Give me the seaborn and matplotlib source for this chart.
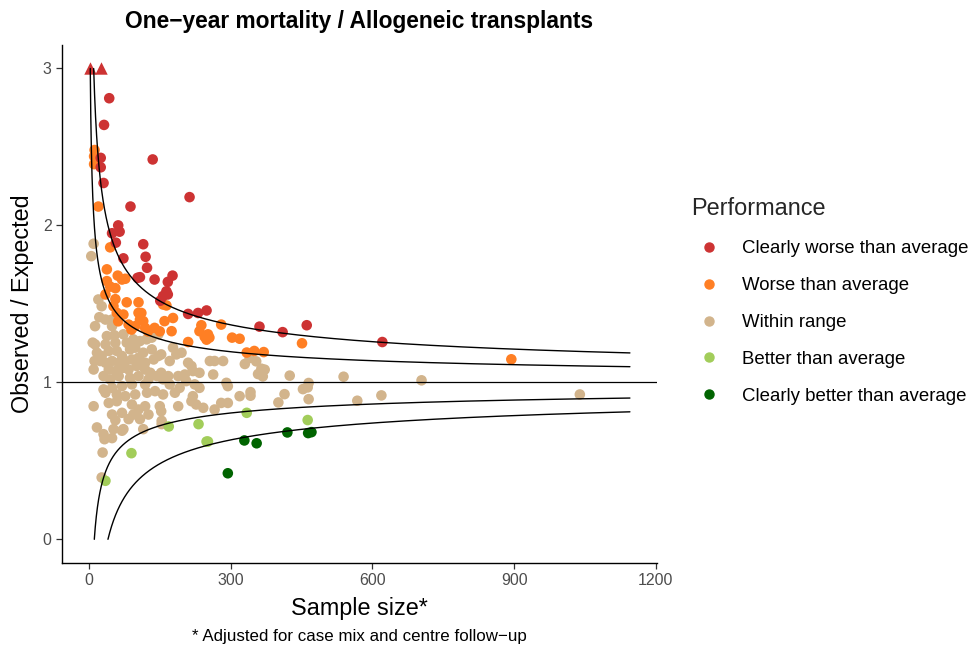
import numpy as np
import pandas as pd
import matplotlib
matplotlib.use("Agg")
import matplotlib.pyplot as plt
from matplotlib.lines import Line2D
import seaborn as sns

# values (sample size, observed / expected)
worse2_x = [43, 32, 25, 135, 25, 31, 213, 88, 62, 49, 65, 57, 73, 115, 120, 123, 139, 103, 108,
            177, 167, 164, 167, 157, 151, 210, 231, 249, 361, 410, 461, 621]
worse2_y = [2.81, 2.64, 2.43, 2.42, 2.37, 2.27, 2.18, 2.12, 2.00, 1.95, 1.96, 1.89, 1.79, 1.88, 1.80,
            1.73, 1.655, 1.666, 1.67, 1.68, 1.64, 1.58, 1.56, 1.55, 1.52, 1.436, 1.442, 1.458,
            1.355, 1.32, 1.364, 1.257]

# centres above the plotted range, drawn as triangles at 3
capped_x = [2, 25]
capped_y = [3, 3]

worse1_x = [12, 11, 11, 20, 45, 38, 61, 70, 77, 38, 45, 56, 35, 56, 52, 80, 105, 59, 73, 105, 108,
            115, 84, 98, 119, 125, 139, 150, 160, 178, 62, 90, 111, 157, 164, 238, 280, 175, 234,
            210, 245, 255, 252, 303, 319, 334, 350, 249, 370, 451, 894]
worse1_y = [2.48, 2.44, 2.39, 2.12, 1.86, 1.72, 1.68, 1.655, 1.66, 1.645, 1.61, 1.60, 1.56, 1.53,
            1.485, 1.51, 1.51, 1.443, 1.432, 1.443, 1.40, 1.39, 1.368, 1.358, 1.347, 1.325, 1.347,
            1.325, 1.39, 1.41, 1.389, 1.336, 1.442, 1.496, 1.49, 1.364, 1.368, 1.326, 1.326,
            1.257, 1.29, 1.285, 1.306, 1.285, 1.278, 1.19, 1.20, 1.272, 1.193, 1.249, 1.147]

within_x = [10, 5, 20, 27, 22, 35, 49, 13, 49,
            38, 54, 73, 13, 8, 35, 56, 80, 94, 108, 122, 133, 147, 17, 27, 42, 59, 70, 87, 98, 115,
            133, 12, 24, 35, 49, 63, 77, 91, 105, 119, 137, 147, 10, 42, 56, 73, 84, 101, 119, 130,
            31, 45, 63, 87, 105, 126, 144, 31, 49, 70, 91, 119, 35, 59, 77, 98, 123, 140, 10, 42,
            59, 91, 105, 119, 49, 70, 94, 126,
            153, 178, 185, 196, 171, 210, 217, 256, 266, 284, 330, 153, 157, 168, 189, 203, 220,
            234, 206, 224, 234, 263, 291, 294, 171, 192, 182, 220, 217, 227, 157, 150, 153, 189,
            242, 280, 294, 266, 319,
            340, 354, 365, 372, 358, 368, 425, 539, 704, 465, 453, 463, 342, 342, 414, 401, 465,
            568, 619, 1039,
            17, 31, 33, 49, 52, 56, 73, 70, 84, 108, 115, 154, 154, 29, 27]
within_y = [1.883, 1.804, 1.528, 1.485, 1.415, 1.40, 1.40, 1.358, 1.358,
            1.295, 1.30, 1.306, 1.242, 1.253, 1.242, 1.253, 1.253, 1.274, 1.263, 1.274, 1.285,
            1.306, 1.189, 1.168, 1.20, 1.20, 1.168, 1.21, 1.221, 1.189, 1.21, 1.136, 1.136, 1.125,
            1.136, 1.125, 1.136, 1.146, 1.157, 1.125, 1.146, 1.168, 1.082, 1.082, 1.072, 1.093,
            1.082, 1.104, 1.082, 1.061, 1.04, 1.019, 1.04, 1.029, 1.04, 1.019, 1.04, 0.955, 0.965,
            0.976, 0.987, 0.987, 0.934, 0.923, 0.912, 0.923, 0.934, 0.944, 0.848, 0.869, 0.88,
            0.859, 0.827, 0.848, 0.795, 0.806, 0.795, 0.795,
            1.178, 1.221, 1.178, 1.189, 1.136, 1.125, 1.104, 1.136, 1.136, 1.136, 1.117, 1.061,
            1.019, 1.04, 1.04, 1.05, 1.072, 1.061, 1.008, 0.987, 0.965, 1.05, 0.997, 0.976, 0.987,
            0.965, 0.934, 0.912, 0.88, 0.859, 0.923, 0.848, 0.816, 0.848, 0.838, 0.869, 0.869,
            0.827, 0.912,
            1.155, 1.134, 1.087, 1.081, 1.053, 1.038, 1.043, 1.036, 1.013, 0.996, 0.957, 0.968,
            0.938, 0.915, 0.925, 0.872, 0.893, 0.883, 0.917, 0.923,
            0.713, 0.67, 0.638, 0.645, 0.702, 0.759, 0.702, 0.692, 0.766, 0.766, 0.702, 0.755,
            0.734, 0.553, 0.394]

better1_x = [169, 232, 252, 249, 90, 35, 334, 463]
better1_y = [0.719, 0.734, 0.623, 0.623, 0.549, 0.373, 0.806, 0.76]

better2_x = [329, 355, 420, 464, 471, 294]
better2_y = [0.63, 0.612, 0.681, 0.677, 0.683, 0.421]

categories = ["Clearly worse than average", "Worse than average", "Within range",
              "Better than average", "Clearly better than average"]
colours = ["#CD3333", "#FF7F24", "#D2B48C", "#A2CD5A", "#006400"]

# funnel control limits: 1 +/- z * sqrt(k / n)
z_inner, z_outer = 1.645, 3.09
k_var = 4.22
n_max = 1145

df = pd.concat([
    pd.DataFrame({"n": within_x, "oe": within_y, "Performance": categories[2]}),
    pd.DataFrame({"n": better1_x, "oe": better1_y, "Performance": categories[3]}),
    pd.DataFrame({"n": better2_x, "oe": better2_y, "Performance": categories[4]}),
    pd.DataFrame({"n": worse1_x, "oe": worse1_y, "Performance": categories[1]}),
    pd.DataFrame({"n": worse2_x, "oe": worse2_y, "Performance": categories[0]}),
], ignore_index=True)

sns.set_theme(style="ticks")
plt.rcParams["font.family"] = ["Liberation Sans", "DejaVu Sans"]

fig = plt.figure(figsize=(9.76, 6.5), dpi=100)
ax = fig.add_axes([0.0635, 0.134, 0.6095, 0.797])

palette = dict(zip(categories, colours))
sns.scatterplot(data=df, x="n", y="oe", hue="Performance", palette=palette,
                s=58, linewidth=0, legend=False, ax=ax, zorder=2)
sns.scatterplot(x=capped_x, y=capped_y, marker="^", color=colours[0], s=80,
                linewidth=0, ax=ax, zorder=2)

grid = np.geomspace(1, n_max, 4000)
for z in (z_inner, z_outer):
    for sign in (1, -1):
        lim = 1 + sign * z * np.sqrt(k_var / grid)
        keep = (lim >= 0) & (lim <= 3)
        ax.plot(grid[keep], lim[keep], color="black", lw=1.0, zorder=3)
ax.axhline(1, color="black", lw=0.9, zorder=3)

ax.set_xlim(-57, 1202)
ax.set_ylim(-0.15, 3.15)
ax.set_xticks([0, 300, 600, 900, 1200])
ax.set_yticks([0, 1, 2, 3])
sns.despine(ax=ax)
for side in ("left", "bottom"):
    ax.spines[side].set_color("black")
    ax.spines[side].set_linewidth(1.0)
ax.tick_params(axis="both", colors="#333333", labelcolor="#4D4D4D", labelsize=11.5,
               length=4, width=0.9)

ax.set_xlabel("Sample size*", fontsize=16.8, color="black", labelpad=6)
ax.set_ylabel("Observed / Expected", fontsize=16.8, color="black", labelpad=6)
ax.set_title("One\u2212year mortality / Allogeneic transplants", fontsize=16.4,
             fontweight="bold", color="black", pad=12)
fig.text(0.368, 0.02, "* Adjusted for case mix and centre follow\u2212up",
         ha="center", va="center", fontsize=12.2, color="black")

handles = [Line2D([], [], marker="o", linestyle="", color=c, markersize=6.5)
           for c in colours]
leg = fig.legend(handles, categories, title="Performance", loc="upper left",
                 bbox_to_anchor=(0.700, 0.708), frameon=False, fontsize=13.4,
                 title_fontsize=16.9, labelspacing=1.07, handletextpad=0.75,
                 borderaxespad=0)
leg._legend_box.align = "left"
for t in leg.get_texts():
    t.set_color("black")

fig.savefig("out.png", dpi=100)
